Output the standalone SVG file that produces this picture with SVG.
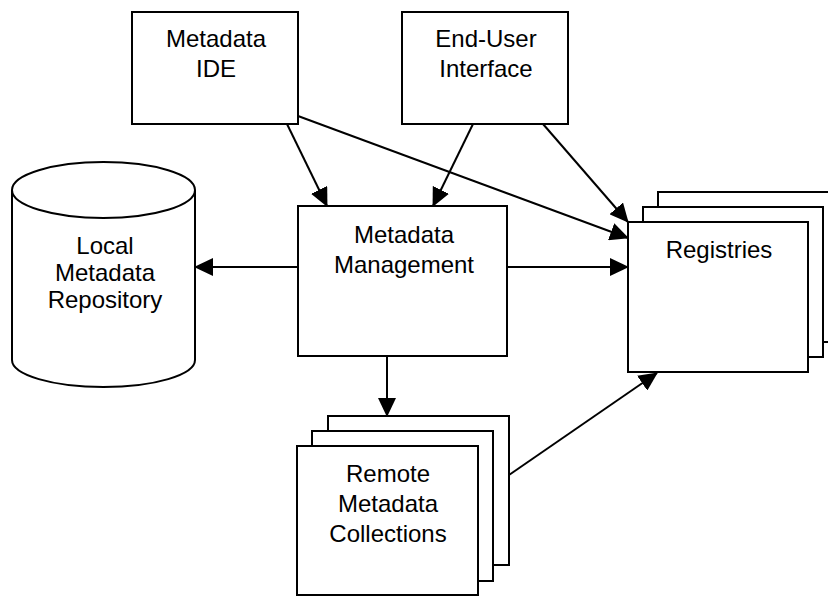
<svg xmlns="http://www.w3.org/2000/svg" width="828" height="596" viewBox="0 0 828 596">
<style>
.box{fill:#fff;stroke:#000;stroke-width:2}
.lbl{font-family:"Liberation Sans",Arial,sans-serif;font-size:24px;fill:#000;text-anchor:middle}
.con{fill:none;stroke:#000;stroke-width:2}
</style>
<defs>
<marker id="arr" markerWidth="19" markerHeight="18" refX="18" refY="9" orient="auto" markerUnits="userSpaceOnUse">
<path d="M0,0 L19,9 L0,18 Z" fill="#000"/>
</marker>
</defs>
<rect width="828" height="596" fill="#fff"/>
<g id="metadata-ide">
<rect class="box" x="132" y="12" width="166" height="112"/>
<text class="lbl" x="216" y="47">Metadata</text>
<text class="lbl" x="216" y="77">IDE</text>
</g>
<g id="end-user-interface">
<rect class="box" x="402" y="12" width="166" height="112"/>
<text class="lbl" x="486" y="47">End-User</text>
<text class="lbl" x="486" y="77">Interface</text>
</g>
<g id="local-metadata-repository">
<path class="box" d="M12,190 V360 A91.5,27 0 0 0 195,360 V190 A91.5,28 0 0 0 12,190 Z"/>
<path class="box" style="fill:none" d="M12,190 A91.5,28 0 0 0 195,190"/>
<text class="lbl" x="105" y="254">Local</text>
<text class="lbl" x="105" y="281">Metadata</text>
<text class="lbl" x="105" y="308">Repository</text>
</g>
<g id="metadata-management">
<rect class="box" x="298" y="206" width="209" height="150"/>
<text class="lbl" x="404" y="243">Metadata</text>
<text class="lbl" x="404" y="273">Management</text>
</g>
<g id="registries">
<rect class="box" x="658" y="192" width="180" height="150"/>
<rect class="box" x="643" y="207" width="180" height="150"/>
<rect class="box" x="628" y="222" width="180" height="150"/>
<text class="lbl" x="719" y="258">Registries</text>
</g>
<g id="remote-metadata-collections">
<rect class="box" x="328" y="416" width="181" height="149"/>
<rect class="box" x="312" y="431" width="181" height="150"/>
<rect class="box" x="297" y="446" width="181" height="149"/>
<text class="lbl" x="388" y="482">Remote</text>
<text class="lbl" x="388" y="512">Metadata</text>
<text class="lbl" x="388" y="542">Collections</text>
</g>
<g id="connectors">
<line class="con" x1="287" y1="124" x2="327" y2="206" marker-end="url(#arr)"/>
<line class="con" x1="473" y1="124" x2="433" y2="206" marker-end="url(#arr)"/>
<line class="con" x1="298" y1="116" x2="628" y2="238" marker-end="url(#arr)"/>
<line class="con" x1="543" y1="124" x2="628" y2="222" marker-end="url(#arr)"/>
<line class="con" x1="298" y1="267" x2="195" y2="267" marker-end="url(#arr)"/>
<line class="con" x1="507" y1="267" x2="628" y2="267" marker-end="url(#arr)"/>
<line class="con" x1="387" y1="356" x2="387" y2="416" marker-end="url(#arr)"/>
<line class="con" x1="509" y1="475" x2="657" y2="373" marker-end="url(#arr)"/>
</g>
</svg>
